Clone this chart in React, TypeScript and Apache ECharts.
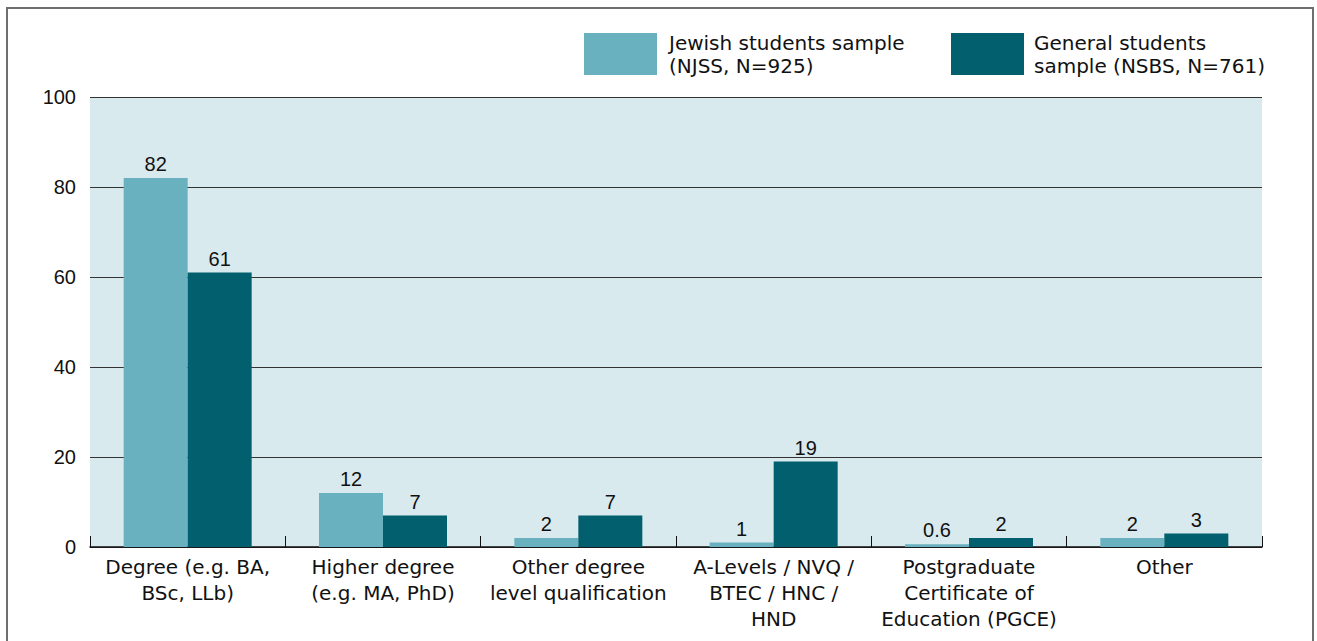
import React, { useEffect, useRef } from "react";
import * as echarts from "echarts";

const categories = [
  "Degree (e.g. BA,\nBSc, LLb)",
  "Higher degree\n(e.g. MA, PhD)",
  "Other degree\nlevel qualification",
  "A-Levels / NVQ /\nBTEC / HNC /\nHND",
  "Postgraduate\nCertificate of\nEducation (PGCE)",
  "Other",
];
const jewishValues = [82, 12, 2, 1, 0.6, 2];
const generalValues = [61, 7, 7, 19, 2, 3];
const yTicks = { min: 0, max: 100, interval: 20 };
const seriesNames = ["Jewish students sample", "General students sample"];
const legendLabels = [
  "Jewish students sample\n(NJSS, N=925)",
  "General students\nsample (NSBS, N=761)",
];

const TEXT_FONT = "'DejaVu Sans', sans-serif";
const NUM_FONT = "'Liberation Sans', Arial, sans-serif";
const LIGHT = "#69b1bf";
const DARK = "#015f6e";

export default function App() {
  const ref = useRef<HTMLDivElement>(null);
  useEffect(() => {
    document.body.style.margin = "0";
    if (!ref.current) return;
    const chart = echarts.init(ref.current, undefined, { renderer: "svg" });
    const labelStyle = {
      show: true,
      position: "top" as const,
      distance: 4,
      color: "#111",
      fontFamily: NUM_FONT,
      fontSize: 20,
    };
    const legendBase = {
      itemWidth: 73,
      itemHeight: 42,
      itemGap: 0,
      icon: "rect",
      padding: 0,
      selectedMode: false,
    };
    chart.setOption({
      animation: false,
      backgroundColor: "#ffffff",
      graphic: [
        {
          type: "rect",
          shape: { x: 7, y: 8, width: 1306, height: 700 },
          style: { fill: "none", stroke: "#6f6f6f", lineWidth: 2 },
          silent: true,
          z: 100,
        },
      ],
      legend: [
        {
          ...legendBase,
          data: [seriesNames[0]],
          left: 584,
          top: 31,
          formatter: () => legendLabels[0],
          textStyle: { fontFamily: TEXT_FONT, fontSize: 20, lineHeight: 23, color: "#111", padding: [0, 0, 0, 7] },
        },
        {
          ...legendBase,
          data: [seriesNames[1]],
          left: 951,
          top: 31,
          formatter: () => legendLabels[1],
          textStyle: { fontFamily: TEXT_FONT, fontSize: 20, lineHeight: 23, color: "#111", padding: [0, 0, 0, 5] },
        },
      ],
      grid: {
        left: 90,
        right: 55,
        top: 97,
        bottom: 94,
        show: true,
        backgroundColor: "#d9eaee",
        borderWidth: 0,
        containLabel: false,
      },
      xAxis: {
        type: "category",
        data: categories,
        axisLine: { show: true, lineStyle: { color: "#111", width: 1.5 } },
        axisTick: { show: true, inside: true, length: 11, lineStyle: { color: "#111", width: 1 } },
        axisLabel: {
          interval: 0,
          margin: 7,
          color: "#111",
          fontFamily: TEXT_FONT,
          fontSize: 20,
          lineHeight: 26,
        },
        splitLine: { show: false },
      },
      yAxis: {
        type: "value",
        min: yTicks.min,
        max: yTicks.max,
        interval: yTicks.interval,
        axisLine: { show: false },
        axisTick: { show: false },
        axisLabel: {
          margin: 14,
          color: "#111",
          fontFamily: NUM_FONT,
          fontSize: 20,
        },
        splitLine: { show: true, lineStyle: { color: "#333", width: 1 } },
      },
      series: [
        {
          name: seriesNames[0],
          type: "bar",
          data: jewishValues,
          barWidth: 64,
          barGap: "0%",
          itemStyle: { color: LIGHT },
          label: labelStyle,
        },
        {
          name: seriesNames[1],
          type: "bar",
          data: generalValues,
          barWidth: 64,
          barGap: "0%",
          itemStyle: { color: DARK },
          label: labelStyle,
        },
      ],
    });
    return () => chart.dispose();
  }, []);
  return <div ref={ref} style={{ width: 1317, height: 641 }} />;
}
